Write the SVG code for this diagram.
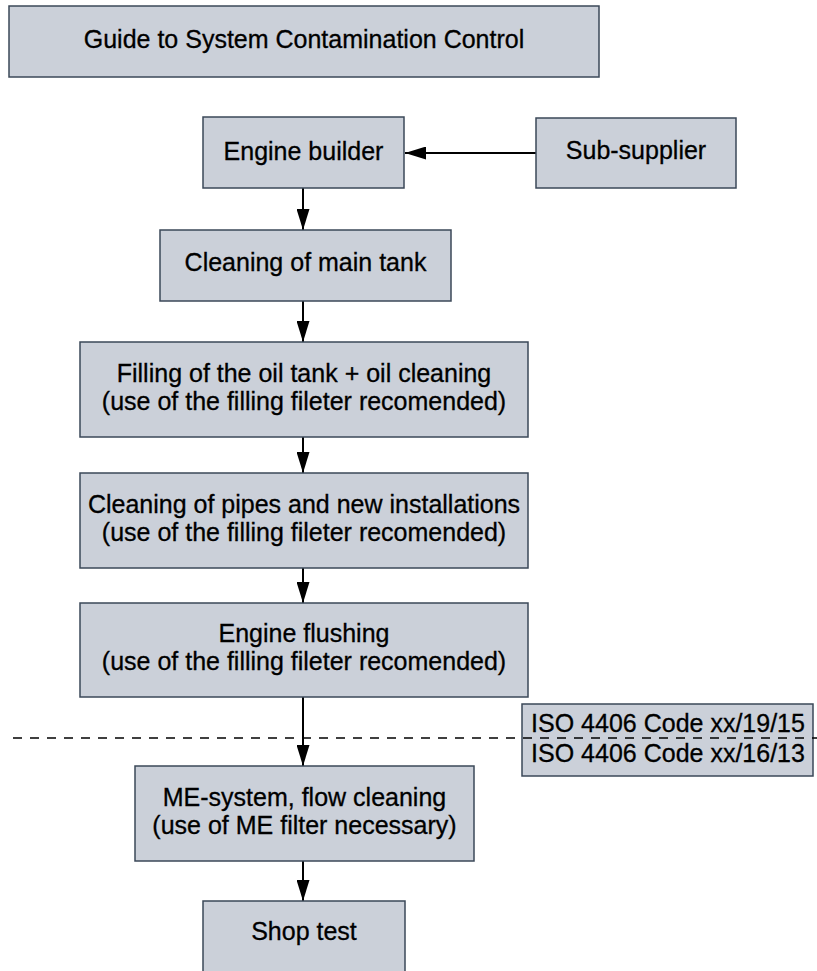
<svg xmlns="http://www.w3.org/2000/svg" width="817" height="971" viewBox="0 0 817 971">
  <defs>
    <style>
      .box { fill: #cbd0d9; stroke: #3b4858; stroke-width: 1.5; }
      .lbl { font-family: "Liberation Sans", Arial, Helvetica, sans-serif; font-size: 25px; fill: #000; stroke: #000; stroke-width: 0.3; text-anchor: middle; }
      .conn { stroke: #000; stroke-width: 2; fill: none; }
      .dash { stroke: #000; stroke-width: 1.3; stroke-dasharray: 9 8; fill: none; }
    </style>
    <marker id="arrow" markerUnits="userSpaceOnUse" markerWidth="22" markerHeight="13" refX="21" refY="6.5" orient="auto">
      <path d="M0,0 L21,6.5 L0,13 z" fill="#000"/>
    </marker>
  </defs>
  <rect width="817" height="971" fill="#fff"/>

  <g id="title">
    <rect class="box" x="9" y="6" width="590" height="71"/>
    <text class="lbl" x="304" y="48">Guide to System Contamination Control</text>
  </g>

  <g id="connectors">
    <line class="conn" x1="536" y1="153" x2="405" y2="153" marker-end="url(#arrow)"/>
    <line class="conn" x1="303" y1="188" x2="303" y2="230" marker-end="url(#arrow)"/>
    <line class="conn" x1="303" y1="301" x2="303" y2="342" marker-end="url(#arrow)"/>
    <line class="conn" x1="303" y1="437" x2="303" y2="473" marker-end="url(#arrow)"/>
    <line class="conn" x1="303" y1="568" x2="303" y2="603" marker-end="url(#arrow)"/>
    <line class="conn" x1="303" y1="697" x2="303" y2="766" marker-end="url(#arrow)"/>
    <line class="conn" x1="303" y1="861" x2="303" y2="901" marker-end="url(#arrow)"/>
  </g>

  <g id="engine-builder">
    <rect class="box" x="203" y="117" width="201" height="71"/>
    <text class="lbl" x="303.5" y="160">Engine builder</text>
  </g>

  <g id="sub-supplier">
    <rect class="box" x="536" y="118" width="200" height="70"/>
    <text class="lbl" x="636" y="159">Sub-supplier</text>
  </g>

  <g id="main-tank">
    <rect class="box" x="160" y="230" width="291" height="71"/>
    <text class="lbl" x="305.5" y="271">Cleaning of main tank</text>
  </g>

  <g id="filling">
    <rect class="box" x="80" y="342" width="448" height="95"/>
    <text class="lbl" x="304" y="381.5">Filling of the oil tank + oil cleaning</text>
    <text class="lbl" x="304" y="409.5">(use of the filling fileter recomended)</text>
  </g>

  <g id="pipes">
    <rect class="box" x="80" y="473" width="448" height="95"/>
    <text class="lbl" x="304" y="512.5">Cleaning of pipes and new installations</text>
    <text class="lbl" x="304" y="540.5">(use of the filling fileter recomended)</text>
  </g>

  <g id="flushing">
    <rect class="box" x="80" y="603" width="448" height="94"/>
    <text class="lbl" x="304" y="642">Engine flushing</text>
    <text class="lbl" x="304" y="670">(use of the filling fileter recomended)</text>
  </g>

  <g id="iso">
    <rect class="box" x="522" y="704" width="291" height="72"/>
    <text class="lbl" x="668" y="731.5">ISO 4406 Code xx/19/15</text>
    <text class="lbl" x="668" y="761.5">ISO 4406 Code xx/16/13</text>
  </g>

  <g id="limit-line">
    <line class="dash" x1="13" y1="738" x2="817" y2="738"/>
  </g>

  <g id="me-system">
    <rect class="box" x="135" y="766" width="339" height="95"/>
    <text class="lbl" x="304.5" y="806">ME-system, flow cleaning</text>
    <text class="lbl" x="304.5" y="834">(use of ME filter necessary)</text>
  </g>

  <g id="shop-test">
    <rect class="box" x="203" y="901" width="202" height="90"/>
    <text class="lbl" x="304" y="940">Shop test</text>
  </g>
</svg>
